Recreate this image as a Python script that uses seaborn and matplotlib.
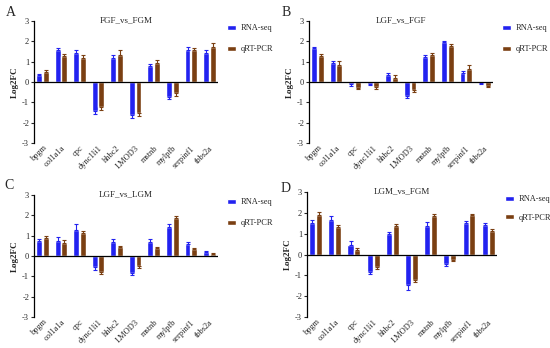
import numpy as np
import pandas as pd
import matplotlib
matplotlib.use("Agg")
import matplotlib.pyplot as plt
import seaborn as sns

genes = ["bpgm", "col1a1a", "cpc", "dync1li1", "hhbc2", "LMOD3", "mstnb", "mylpfb", "serpinf1", "tbbs2a"]
methods = ["RNA-seq", "qRT-PCR"]
titles = ["FGF_vs_FGM", "LGF_vs_FGF", "LGF_vs_LGM", "LGM_vs_FGM"]
letters = ["A", "B", "C", "D"]

a_rna = [0.33, 1.55, 1.45, -1.45, 1.20, -1.60, 0.78, -0.75, 1.58, 1.42]
a_qpcr = [0.50, 1.28, 1.20, -1.25, 1.35, -1.50, 0.95, -0.55, 1.55, 1.72]
a_rna_err = [0.05, 0.10, 0.10, 0.10, 0.15, 0.15, 0.10, 0.10, 0.12, 0.15]
a_qpcr_err = [0.10, 0.10, 0.12, 0.15, 0.20, 0.15, 0.12, 0.15, 0.12, 0.20]

b_rna = [1.65, 0.95, -0.12, -0.08, 0.35, -0.68, 1.22, 1.95, 0.42, -0.05]
b_qpcr = [1.30, 0.82, -0.28, -0.25, 0.22, -0.40, 1.35, 1.75, 0.62, -0.20]
b_rna_err = [0.07, 0.10, 0.10, 0.08, 0.08, 0.10, 0.12, 0.07, 0.10, 0.05]
b_qpcr_err = [0.10, 0.20, 0.08, 0.08, 0.12, 0.10, 0.10, 0.10, 0.20, 0.05]

c_rna = [0.75, 0.75, 1.30, -0.55, 0.68, -0.82, 0.70, 1.42, 0.58, 0.22]
c_qpcr = [0.90, 0.65, 1.12, -0.80, 0.45, -0.48, 0.38, 1.85, 0.32, 0.12]
c_rna_err = [0.10, 0.18, 0.25, 0.15, 0.15, 0.10, 0.15, 0.15, 0.12, 0.05]
c_qpcr_err = [0.07, 0.15, 0.12, 0.10, 0.05, 0.10, 0.07, 0.10, 0.08, 0.05]

d_rna = [1.50, 1.65, 0.45, -0.82, 0.98, -1.45, 1.38, -0.45, 1.52, 1.42]
d_qpcr = [1.92, 1.32, 0.20, -0.58, 1.35, -1.20, 1.85, -0.25, 1.88, 1.12]
d_rna_err = [0.15, 0.20, 0.22, 0.10, 0.12, 0.25, 0.20, 0.08, 0.10, 0.10]
d_qpcr_err = [0.10, 0.10, 0.10, 0.12, 0.10, 0.10, 0.10, 0.08, 0.05, 0.10]

panels = [
    (a_rna, a_qpcr, a_rna_err, a_qpcr_err),
    (b_rna, b_qpcr, b_rna_err, b_qpcr_err),
    (c_rna, c_qpcr, c_rna_err, c_qpcr_err),
    (d_rna, d_qpcr, d_rna_err, d_qpcr_err),
]

sns.set_theme(style="white")
plt.rcParams["font.family"] = ["Liberation Serif", "DejaVu Serif"]

colors = {"RNA-seq": "#2222f0", "qRT-PCR": "#7a3f12"}

fig = plt.figure(figsize=(5.5, 3.48), dpi=100)
W, H = 550, 348
# axes boxes in pixels: left, top, right, bottom
boxes = [(34, 21, 218, 143), (309, 21, 493, 143), (34, 195, 218, 317), (307, 192, 497, 317)]
legpos = [(227, 24), (502, 24), (227, 198), (505, 195)]
letterpos = [(6, 12), (282, 12), (4, 186), (281, 188)]
legspacing = [1.6, 1.6, 1.6, 1.3]

for i, (rna, qpcr, rerr, qerr) in enumerate(panels):
    l, t, r, b = boxes[i]
    ax = fig.add_axes([l / W, 1 - b / H, (r - l) / W, (b - t) / H])
    df = pd.DataFrame({
        "gene": genes * 2,
        "method": [methods[0]] * len(genes) + [methods[1]] * len(genes),
        "value": list(rna) + list(qpcr),
    })
    sns.barplot(data=df, x="gene", y="value", hue="method", order=genes,
                hue_order=methods, palette=colors, width=0.72, gap=0.12,
                errorbar=None, ax=ax, legend=True, saturation=1)
    errs = [rerr, qerr]
    for cont, er, m in zip(ax.containers, errs, methods):
        xs, ys, lo, hi = [], [], [], []
        for bar, e in zip(cont, er):
            h = bar.get_height()
            xs.append(bar.get_x() + bar.get_width() / 2)
            ys.append(h)
            lo.append(e if h < 0 else 0)
            hi.append(e if h >= 0 else 0)
        ax.errorbar(xs, ys, yerr=[lo, hi], fmt="none", ecolor=colors[m],
                    elinewidth=0.8, capsize=1.5, capthick=0.8)
    ax.axhline(0, color="black", lw=0.9, zorder=5)
    ax.set_ylim(-3, 3)
    ax.set_xlim(-0.45, 9.46)
    ax.set_yticks([-3, -2, -1, 0, 1, 2, 3])
    ax.set_yticklabels(["-3", "-2", "-1", "0", "1", "2", "3"], fontsize=6)
    ax.tick_params(axis="y", length=2.5, width=0.8, pad=1, left=True)
    ax.tick_params(axis="x", length=0, pad=1)
    ax.set_xticks(range(len(genes)))
    ax.set_xticklabels(genes, rotation=45, ha="right", rotation_mode="anchor", fontsize=6)
    for s in ["top", "right", "bottom"]:
        ax.spines[s].set_visible(False)
    ax.spines["left"].set_linewidth(0.9)
    ax.spines["left"].set_color("black")
    ax.set_xlabel("")
    ax.set_ylabel("Log2FC", fontsize=6.5, fontweight="bold", labelpad=2)
    ax.set_title(titles[i], fontsize=6.5, pad=-1)
    handles, labels = ax.get_legend_handles_labels()
    ax.legend(handles, labels, loc="upper left",
              bbox_to_anchor=(legpos[i][0] / W, 1 - legpos[i][1] / H),
              bbox_transform=fig.transFigure, frameon=False, fontsize=6,
              handlelength=1.1, handleheight=0.55, labelspacing=legspacing[i],
              handletextpad=0.5, borderaxespad=0, borderpad=0)
    fig.text(letterpos[i][0] / W, 1 - letterpos[i][1] / H, letters[i],
             fontsize=10, va="center", ha="left")

fig.savefig("out.png", dpi=100)
